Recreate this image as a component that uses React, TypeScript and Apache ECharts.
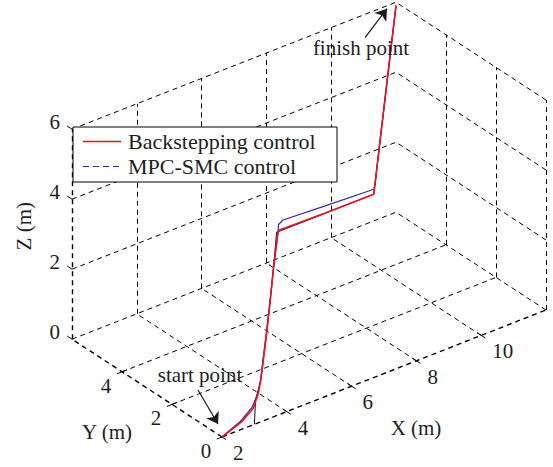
import React, { useEffect, useRef } from "react";
import * as echarts from "echarts";

const W = 553;
const H = 467;

// Axis limits (metres) and tick values
const xLim = [2, 12];
const yLim = [0, 6];
const zLim = [0, 6];
const xTicks = [2, 4, 6, 8, 10];
const yTicks = [0, 2, 4];
const zTicks = [0, 2, 4, 6];

// Series names
const NAME_BS = "Backstepping control";
const NAME_MPC = "MPC-SMC control";

// Trajectories as [x, y, z] in metres
const backstepping: number[][] = [
  [2, 0, 0], [2.65, 0.05, 0.18], [3.12, 0.2, 0.32], [3.43, 0.4, 0.54], [3.66, 0.6, 0.75],
  [3.97, 0.9, 1.07], [4.38, 1.3, 1.49], [4.83, 1.75, 1.98], [5.32, 2.25, 2.52], [5.82, 2.75, 2.96],
  [6.05, 3, 3.03], [7.5, 3, 3.01], [9, 3, 3.0], [9.6, 3.6, 3.58], [10.5, 4.5, 4.45],
  [11.4, 5.4, 5.32], [12, 6, 5.9],
];
const mpcSmc: number[][] = [
  [2, 0, 0], [2.6, 0.05, 0.2], [3.08, 0.2, 0.36], [3.42, 0.4, 0.56], [3.66, 0.6, 0.77],
  [3.96, 0.9, 1.08], [4.37, 1.3, 1.5], [4.83, 1.75, 1.99], [5.32, 2.25, 2.53], [5.82, 2.75, 2.97],
  [6.05, 3, 3.06], [6.06, 3, 3.2], [6.2, 3, 3.28], [7.5, 3, 3.21], [9, 3, 3.14], [9.08, 3.05, 3.24],
  [9.6, 3.6, 3.6], [10.5, 4.5, 4.46], [11.4, 5.4, 5.33], [12, 6, 5.9],
];
const reference: number[][] = [
  [3, 0, 0], [3.15, 0.15, 0.55], [3.66, 0.6, 0.75], [4.38, 1.3, 1.49], [5.32, 2.25, 2.52],
  [6, 3, 3], [9, 3, 3], [12, 6, 5.9],
];

const RED = "#e8141f";
const BLUE = "#2b2ba6";

// Oblique view: screen position of the (xmin, ymin, zmin) corner and per-metre axis steps
const ORIGIN = [222, 437];
const EX = [32.4, -12.7];
const EY = [-25, -16.3];
const EZ = [0, -35];

function proj(x: number, y: number, z: number): number[] {
  const dx = x - xLim[0];
  const dy = y - yLim[0];
  const dz = z - zLim[0];
  return [
    ORIGIN[0] + EX[0] * dx + EY[0] * dy + EZ[0] * dz,
    ORIGIN[1] + EX[1] * dx + EY[1] * dy + EZ[1] * dz,
  ];
}

const FONT_FAMILY = "serif";
const font = (size: number) => `${size}px 'Liberation Serif', 'Times New Roman', serif`;
const TXT = "#1e1e1e";

function seg(a: number[], b: number[]) {
  return { coords: [proj(a[0], a[1], a[2]), proj(b[0], b[1], b[2])] };
}

function buildGrid() {
  const [x0, x1] = xLim;
  const [y0, y1] = yLim;
  const [z0, z1] = zLim;
  const grid: any[] = [];
  // floor
  xTicks.filter((v) => v !== x0).forEach((x) => grid.push(seg([x, y0, z0], [x, y1, z0])));
  yTicks.filter((v) => v !== y0).forEach((y) => grid.push(seg([x0, y, z0], [x1, y, z0])));
  // back wall (y = ymax)
  xTicks.filter((v) => v !== x0).forEach((x) => grid.push(seg([x, y1, z0], [x, y1, z1])));
  zTicks.forEach((z) => grid.push(seg([x0, y1, z], [x1, y1, z])));
  // side wall (x = xmax)
  yTicks.forEach((y) => grid.push(seg([x1, y, z0], [x1, y, z1])));
  zTicks.forEach((z) => grid.push(seg([x1, y0, z], [x1, y1, z])));
  const axes: any[] = [
    seg([x0, y0, z0], [x1, y0, z0]),
    seg([x0, y0, z0], [x0, y1, z0]),
    seg([x0, y1, z0], [x0, y1, z1]),
  ];
  const ticks: any[] = [];
  const t = 0.16;
  xTicks.forEach((x) => ticks.push(seg([x, y0 - t, z0], [x, y0 + t, z0])));
  yTicks.forEach((y) => ticks.push(seg([x0 - t, y, z0], [x0 + t, y, z0])));
  zTicks.forEach((z) => ticks.push(seg([x0, y1, z], [x0, y1 + t * 1.2, z])));
  return { grid, axes, ticks };
}

// Tick labels as plain text placed at the projected tick positions
function tickLabels(pts: number[][], values: number[], dx: number, dy: number, align: string) {
  return pts.map((p, i) => {
    const q = proj(p[0], p[1], p[2]);
    return {
      type: "text",
      x: q[0] + dx,
      y: q[1] + dy,
      style: { text: String(values[i]), fill: TXT, font: font(21), align, verticalAlign: "middle" },
      z: 10,
    };
  });
}

function textAt(p: number[], dx: number, dy: number, text: string) {
  return {
    type: "text",
    x: p[0] + dx,
    y: p[1] + dy,
    style: { text, fill: TXT, font: font(21), align: "center", verticalAlign: "middle" },
    z: 10,
  };
}

// Boxed key in the upper-left of the plot
function legendBox() {
  const L = 73, T = 127, BW = 264, BH = 55;
  const rows = [
    { name: NAME_BS, color: RED, dash: null as any, width: 1.6 },
    { name: NAME_MPC, color: BLUE, dash: [6, 4], width: 1.2 },
  ];
  const children: any[] = [
    {
      type: "rect",
      shape: { x: L, y: T, width: BW, height: BH },
      style: { fill: "#fff", stroke: "#000", lineWidth: 1 },
      z: 20,
    },
  ];
  rows.forEach((r, i) => {
    const cy = T + 14.5 + i * 25;
    children.push({
      type: "line",
      shape: { x1: L + 10, y1: cy, x2: L + 48, y2: cy },
      style: { stroke: r.color, lineWidth: r.width, lineDash: r.dash },
      z: 21,
    });
    children.push({
      type: "text",
      x: L + 55,
      y: cy,
      style: { text: r.name, fill: TXT, font: font(22), align: "left", verticalAlign: "middle" },
      z: 21,
    });
  });
  return children;
}

export default function App() {
  const ref = useRef<HTMLDivElement>(null);

  useEffect(() => {
    document.body.style.margin = "0";
    if (!ref.current) return;
    const chart = echarts.init(ref.current, undefined, { renderer: "svg" });
    const { grid, axes, ticks } = buildGrid();
    const toXY = (arr: number[][]) => arr.map((p) => proj(p[0], p[1], p[2]));

    const start = backstepping[0];
    const finish = backstepping[backstepping.length - 1];
    const pStart = proj(start[0], start[1], start[2]);
    const pFinish = proj(finish[0], finish[1], finish[2]);
    const startTip = [pStart[0] - 4, pStart[1] - 13];
    const finishTip = [pFinish[0] - 9, pFinish[1] + 3];
    const zMid = proj(xLim[0], yLim[1], (zLim[0] + zLim[1]) / 2);

    chart.setOption({
      animation: false,
      backgroundColor: "#ffffff",
      textStyle: { fontFamily: FONT_FAMILY },
      grid: { left: 0, right: 0, top: 0, bottom: 0 },
      xAxis: { type: "value", min: 0, max: W, show: false },
      yAxis: { type: "value", min: 0, max: H, inverse: true, show: false },
      series: [
        {
          name: "grid",
          type: "lines",
          coordinateSystem: "cartesian2d",
          silent: true,
          lineStyle: { color: "#000", width: 1, type: [5, 4], opacity: 1 },
          data: grid,
          z: 1,
        },
        {
          name: "axes",
          type: "lines",
          coordinateSystem: "cartesian2d",
          silent: true,
          lineStyle: { color: "#000", width: 1.4, type: [5, 4], opacity: 1 },
          data: axes,
          z: 2,
        },
        {
          name: "ticks",
          type: "lines",
          coordinateSystem: "cartesian2d",
          silent: true,
          lineStyle: { color: "#000", width: 1, type: "solid", opacity: 1 },
          data: ticks,
          z: 2,
        },
        {
          name: "reference",
          type: "line",
          data: toXY(reference),
          symbol: "none",
          showSymbol: false,
          lineStyle: { color: "#111", width: 1 },
          z: 3,
        },
        {
          name: NAME_MPC,
          type: "line",
          data: toXY(mpcSmc),
          symbol: "none",
          showSymbol: false,
          itemStyle: { color: BLUE },
          lineStyle: { color: BLUE, width: 1.2 },
          z: 4,
        },
        {
          name: NAME_BS,
          type: "line",
          data: toXY(backstepping),
          symbol: "none",
          showSymbol: false,
          itemStyle: { color: RED },
          lineStyle: { color: RED, width: 1.6 },
          z: 4,
        },
        {
          name: "arrows",
          type: "lines",
          coordinateSystem: "cartesian2d",
          silent: true,
          symbol: ["none", "arrow"],
          symbolSize: 11,
          lineStyle: { color: "#1a1a1a", width: 1.2, opacity: 1 },
          data: [
            { coords: [[startTip[0] - 20, startTip[1] - 34], startTip] },
            { coords: [[finishTip[0] - 22, finishTip[1] + 29], finishTip] },
          ],
          z: 6,
        },
      ],
      graphic: [
        ...tickLabels(xTicks.map((x) => [x, yLim[0], zLim[0]]), xTicks, 11, 16, "left"),
        ...tickLabels(yTicks.map((y) => [xLim[0], y, zLim[0]]), yTicks, -16, 14, "center"),
        ...tickLabels(zTicks.map((z) => [xLim[0], yLim[1], z]), zTicks, -12, -7, "right"),
        textAt(pStart, -22, -62, "start point"),
        textAt(pFinish, -35, 42, "finish point"),
        textAt(proj((xLim[0] + xLim[1]) / 2, yLim[0], zLim[0]), 32, 54, "X (m)"),
        textAt(proj(xLim[0], (yLim[0] + yLim[1]) / 2, zLim[0]), -40, 44, "Y (m)"),
        {
          type: "text",
          x: zMid[0] - 48,
          y: zMid[1] - 8,
          rotation: Math.PI / 2,
          style: { text: "Z (m)", fill: TXT, font: font(21), align: "center", verticalAlign: "middle" },
          z: 10,
        },
        ...legendBox(),
      ],
    });
    return () => chart.dispose();
  }, []);

  return <div ref={ref} style={{ width: W, height: H }} />;
}
